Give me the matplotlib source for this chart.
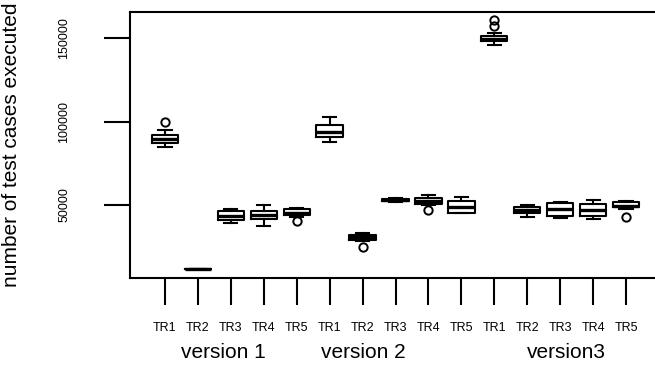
import matplotlib
matplotlib.use("Agg")
import matplotlib.pyplot as plt
import matplotlib.transforms as mtransforms

plt.rcParams['font.family'] = ['Liberation Sans', 'DejaVu Sans']

tick_labels = ["TR1", "TR2", "TR3", "TR4", "TR5"] * 3
versions = ["version 1", "version 2", "version3"]

# per box: lower whisker, q1, median, q3, upper whisker, outliers
whislo = [84900, 11500, 39500, 37400, 42800,
          87500, 28400, 51800, 50000, 45200,
          145800, 43000, 42400, 41600, 47900]
q1 = [86900, 11500, 41000, 41400, 43800,
      90900, 29000, 52300, 50600, 45400,
      148400, 45000, 43600, 43600, 48600]
med = [89300, 11500, 43500, 44000, 45400,
       93900, 30800, 53000, 52400, 49000,
       149700, 47000, 47400, 47000, 49600]
q3 = [91900, 11500, 46500, 46600, 47400,
      97900, 32000, 53600, 54000, 52400,
      151200, 48600, 51400, 50400, 51600]
whishi = [94900, 11500, 47500, 50000, 48000,
          102500, 33200, 54000, 56000, 54600,
          152800, 50000, 52000, 53000, 52400]
fliers = [[99900], [], [], [], [40700],
          [], [25000], [], [47000], [],
          [160500, 157000], [], [], [], [43000]]

stats = []
for i in range(len(tick_labels)):
    stats.append(dict(whislo=whislo[i], q1=q1[i], med=med[i], q3=q3[i],
                      whishi=whishi[i], fliers=fliers[i], label=tick_labels[i]))

W, H = 655, 366
fig = plt.figure(figsize=(W / 100, H / 100), dpi=100)
ax = fig.add_axes([130 / W, 88 / H, 1.01 - 130 / W, (278 - 12) / H])

positions = list(range(1, len(stats) + 1))
lw = 1.5
ax.bxp(stats, positions=positions, widths=0.8, showfliers=True,
       boxprops=dict(color='black', linewidth=lw),
       whiskerprops=dict(color='black', linewidth=lw),
       capprops=dict(color='black', linewidth=lw),
       medianprops=dict(color='black', linewidth=2.4, solid_capstyle='butt'),
       flierprops=dict(marker='o', markerfacecolor='none', markeredgecolor='black',
                       markersize=6, markeredgewidth=1.4))

ax.set_xlim(1 - 35 / 32.93, 1 + (W * 1.01 - 165) / 32.93)
ax.set_ylim(6288, 165569)

for s in ['right']:
    ax.spines[s].set_visible(False)
for s in ['left', 'top', 'bottom']:
    ax.spines[s].set_linewidth(1.5)

ax.set_xticks(positions)
ax.set_xticklabels(tick_labels, fontsize=9)
ax.tick_params(axis='x', length=19.5, width=1.5, pad=12)
ax.set_yticks([50000, 100000, 150000])
ax.set_yticklabels(["50000", "100000", "150000"], fontsize=9, rotation=90, va='center')
ax.tick_params(axis='y', length=19, width=1.5, pad=24)

version_pos = [2.76, 7.03, 13.18]
trans = mtransforms.blended_transform_factory(ax.transData, fig.transFigure)
for p, v in zip(version_pos, versions):
    fig.text(p, (H - 353) / H, v, transform=trans, ha='center', va='center', fontsize=15)

fig.text(12 / W, (H - 145) / H, "number of test cases executed", rotation=90,
         ha='center', va='center', fontsize=15)

fig.savefig("out.png", dpi=100)
